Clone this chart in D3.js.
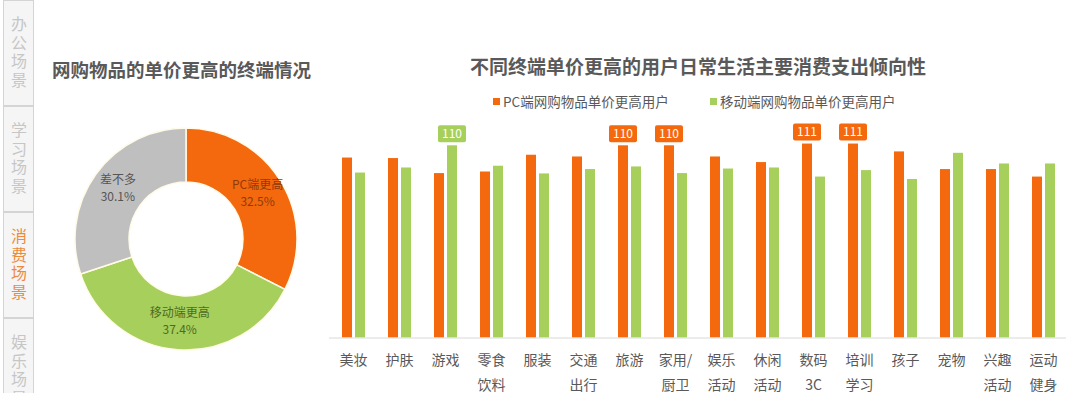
<!DOCTYPE html>
<html>
<head>
<meta charset="utf-8">
<script src="https://cdn.jsdelivr.net/npm/d3@7/dist/d3.min.js"></script>
<style>
  html, body { margin: 0; padding: 0; background: #fff; }
  svg { display: block; font-family: "Noto Sans CJK SC", "Noto Sans", sans-serif; }
</style>
</head>
<body>
<svg id="chart" width="1080" height="393"></svg>
<script>
// ---------- data ----------
const sideTabs = ["办公场景", "学习场景", "消费场景", "娱乐场景"];
const activeTab = "消费场景";

const donutTitle = "网购物品的单价更高的终端情况";
const donutLabels = ["PC端更高", "移动端更高", "差不多"];
const donutValues = [32.5, 37.4, 30.1];

const barTitle = "不同终端单价更高的用户日常生活主要消费支出倾向性";
const seriesNames = ["PC端网购物品单价更高用户", "移动端网购物品单价更高用户"];
const categories = ["美妆", "护肤", "游戏", "零食\n饮料", "服装", "交通\n出行", "旅游", "家用/\n厨卫",
                    "娱乐\n活动", "休闲\n活动", "数码\n3C", "培训\n学习", "孩子", "宠物", "兴趣\n活动", "运动\n健身"];
const pcValues     = [103, 102.7, 94.1, 95, 104.6, 103.6, 110, 110, 103.6, 100.4, 111, 111, 106.5, 96.4, 96.4, 92.1];
const mobileValues = [94.4, 97.3, 110, 98.3, 93.9, 96.4, 97.9, 94.1, 96.7, 97.3, 92.1, 95.8, 90.7, 105.7, 99.6, 99.6];
const labelThreshold = 110;

// ---------- style ----------
const ORANGE = "#F4690E";
const GREEN = "#A7CF5C";
const GREY = "#BFBFBF";
const TEXT = "#595959";

const svg = d3.select("#chart");

// ---------- side tabs ----------
const tabY = d3.scaleBand().domain(sideTabs).range([0, 424]);
const tabs = svg.append("g");
tabs.selectAll("rect").data(sideTabs).join("rect")
  .attr("x", 3.5).attr("y", d => tabY(d) + 0.5)
  .attr("width", 30).attr("height", tabY.bandwidth() - 1)
  .attr("fill", "#f5f5f5").attr("stroke", "#d4d4d4");
tabs.selectAll("text").data(sideTabs).join("text")
  .attr("x", 19)
  .attr("y", d => tabY(d) + tabY.bandwidth() / 2)
  .attr("text-anchor", "middle")
  .style("writing-mode", "vertical-rl")
  .style("letter-spacing", "2.5px")
  .attr("font-size", 16)
  .attr("fill", d => d === activeTab ? "#EE8A3C" : "#c6c6c6")
  .text(d => d);

// ---------- donut ----------
svg.append("text")
  .attr("x", 52).attr("y", 70).attr("dy", "0.36em")
  .attr("font-size", 18.5).attr("font-weight", "bold").attr("fill", TEXT)
  .text(donutTitle);

const donutColors = d3.scaleOrdinal().domain(donutLabels).range([ORANGE, GREEN, GREY]);
const donutLabelColors = d3.scaleOrdinal().domain(donutLabels).range(["#8e3b08", "#4e6b1f", "#555555"]);
const pie = d3.pie().sort(null).value(d => d.v);
const arcs = pie(donutLabels.map((l, i) => ({ l, v: donutValues[i] })));
const arc = d3.arc().innerRadius(57).outerRadius(111);
const dg = svg.append("g").attr("transform", "translate(186,239)");
dg.selectAll("path").data(arcs).join("path")
  .attr("d", arc)
  .attr("fill", d => donutColors(d.data.l))
  .attr("stroke", "#fffbe8").attr("stroke-width", 1.5);
const dl = dg.selectAll("g.lbl").data(arcs).join("g")
  .attr("class", "lbl")
  .attr("transform", d => `translate(${arc.centroid(d)})`);
dl.append("text").attr("y", -6).attr("text-anchor", "middle")
  .attr("font-size", 12).attr("fill", d => donutLabelColors(d.data.l))
  .text(d => d.data.l);
dl.append("text").attr("y", 11).attr("text-anchor", "middle")
  .attr("font-size", 12).attr("fill", d => donutLabelColors(d.data.l))
  .text(d => d.data.v.toFixed(1) + "%");

// ---------- bar chart ----------
svg.append("text")
  .attr("x", 698).attr("y", 67).attr("dy", "0.36em")
  .attr("text-anchor", "middle")
  .attr("font-size", 19).attr("font-weight", "bold").attr("fill", TEXT)
  .text(barTitle);

// legend
const legendX = [493, 710];
const seriesColors = [ORANGE, GREEN];
const lg = svg.append("g");
seriesNames.forEach((s, i) => {
  lg.append("rect").attr("x", legendX[i]).attr("y", 98).attr("width", 7).attr("height", 7)
    .attr("fill", seriesColors[i]);
  lg.append("text").attr("x", legendX[i] + 10).attr("y", 102).attr("dy", "0.36em")
    .attr("font-size", 13.5).attr("fill", TEXT).text(s);
});

const baseY = 337.5;
const x0 = d3.scaleBand().domain(categories).range([330.5, 1066.5]).paddingInner(0.5).paddingOuter(0.25);
const x1 = d3.scaleBand().domain([0, 1]).range([0, x0.bandwidth()]).paddingInner(0.23);
const y = d3.scaleLinear().domain([0, 120]).range([baseY, baseY - 120 * 1.7473]);

const series = [pcValues, mobileValues];
const bg = svg.append("g");
series.forEach((vals, si) => {
  bg.selectAll(null).data(categories).join("rect")
    .attr("x", c => x0(c) + x1(si))
    .attr("y", (c, i) => y(vals[i]))
    .attr("width", x1.bandwidth())
    .attr("height", (c, i) => y(0) - y(vals[i]))
    .attr("fill", seriesColors[si]);
  // value tags
  const tagged = categories.map((c, i) => ({ c, v: vals[i] })).filter(d => d.v >= labelThreshold);
  const tg = bg.selectAll(null).data(tagged).join("g")
    .attr("transform", d => `translate(${x0(d.c) + x1(si) + x1.bandwidth() / 2},${y(d.v) - 3})`);
  tg.append("rect").attr("x", -14).attr("y", -17).attr("width", 28).attr("height", 17)
    .attr("rx", 2).attr("fill", seriesColors[si]);
  tg.append("text").attr("y", -8.5).attr("dy", "0.36em").attr("text-anchor", "middle")
    .attr("font-size", 12).attr("fill", "#fff").text(d => Math.round(d.v));
});

// axis
const xAxis = d3.axisBottom(x0).tickSize(0).tickFormat("");
const ax = svg.append("g").attr("transform", `translate(0,${baseY})`).call(xAxis);
ax.select(".domain").attr("stroke", "#d9d9d9").attr("d", "M329,0.5H1066");
const tl = svg.append("g");
categories.forEach(c => {
  const t = tl.append("text").attr("text-anchor", "middle")
    .attr("font-size", 14).attr("fill", TEXT);
  c.split("\n").forEach((line, i) => {
    t.append("tspan").attr("x", x0(c) + x0.bandwidth() / 2)
      .attr("y", 360 + i * 25).attr("dy", "0.36em").text(line);
  });
});
</script>
</body>
</html>
